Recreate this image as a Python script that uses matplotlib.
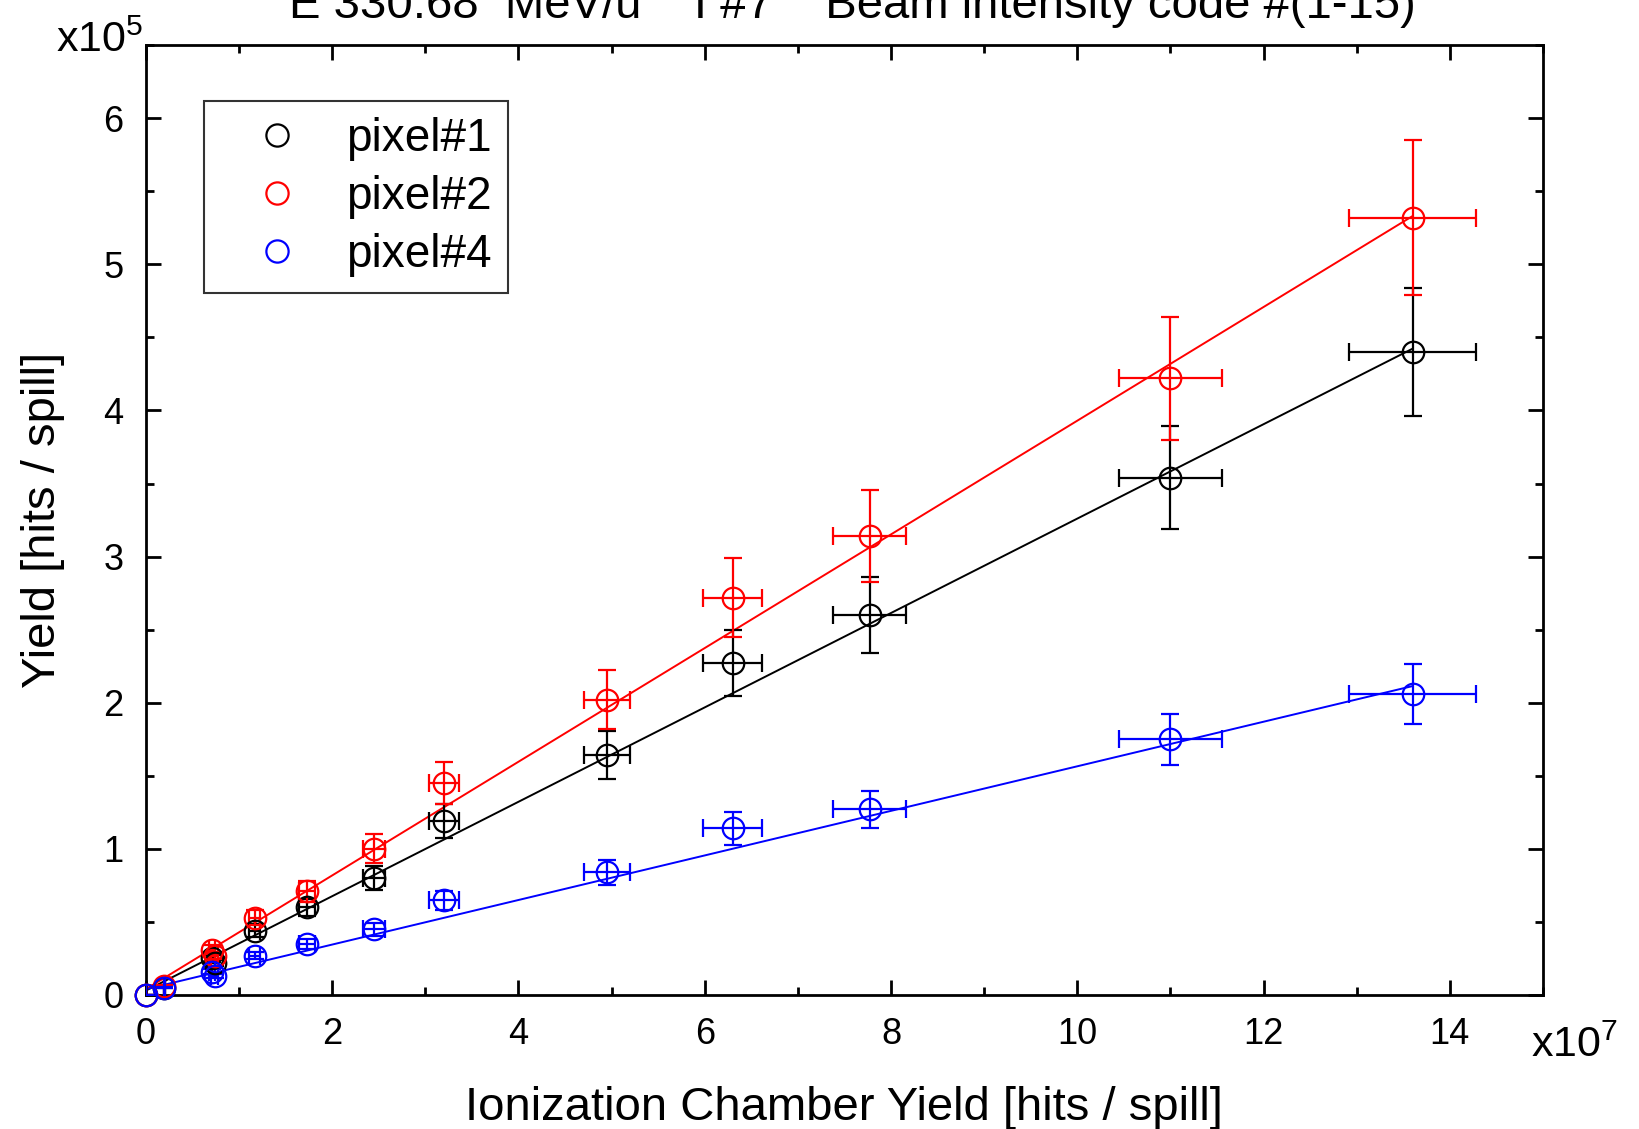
import numpy as np
import matplotlib
matplotlib.use("Agg")
import matplotlib.pyplot as plt
from matplotlib.ticker import MultipleLocator
from matplotlib.lines import Line2D

plt.rcParams['font.family'] = ['Liberation Sans', 'DejaVu Sans']
plt.rcParams['mathtext.default'] = 'regular'

# ionization chamber yield (x1e7 hits/spill) for each intensity code
ic_yield = [0.0, 0.2, 0.71, 0.74, 1.17, 1.73, 2.45, 3.2, 4.95, 6.3, 7.77, 11.0, 13.6]

# pixel yields (x1e5 hits/spill)
pixel1 = [0.0, 0.05, 0.25, 0.22, 0.44, 0.60, 0.80, 1.19, 1.64, 2.27, 2.60, 3.54, 4.40]
pixel2 = [0.0, 0.06, 0.31, 0.27, 0.53, 0.71, 1.00, 1.45, 2.02, 2.72, 3.14, 4.22, 5.32]
pixel4 = [0.0, 0.05, 0.16, 0.13, 0.27, 0.35, 0.45, 0.65, 0.84, 1.14, 1.27, 1.75, 2.06]

# relative uncertainties on IC yield and pixel yield
ic_rel_err = 0.05
pix_rel_err = 0.10

# linear fits (intercept, slope) drawn over the data range
fit1 = (0.03, 0.323)
fit2 = (0.04, 0.389)
fit4 = (0.04, 0.1525)

labels = ['pixel#1', 'pixel#2', 'pixel#4']
colors = ['black', 'red', 'blue']

fig = plt.figure(figsize=(16.39, 11.29), dpi=100)
ax = fig.add_axes([0.089, 0.1187, 0.8524, 0.8413])

x = np.array(ic_yield)
xfit = np.array([x.min(), x.max()])
for y, fit, lab, c in zip([pixel1, pixel2, pixel4], [fit1, fit2, fit4], labels, colors):
    y = np.array(y)
    eb = ax.errorbar(x, y, xerr=ic_rel_err * x, yerr=pix_rel_err * y, fmt='o', ms=15.5,
                     mfc='none', mec=c, mew=1.6, ecolor=c, elinewidth=1.6,
                     capsize=6.5, capthick=1.6, zorder=3)
    eb[0].set_clip_on(False)
    ax.plot(xfit, fit[0] + fit[1] * xfit, color=c, lw=1.4, zorder=2)

ax.set_xlim(0, 15)
ax.set_ylim(0, 6.5)
ax.xaxis.set_major_locator(MultipleLocator(2))
ax.xaxis.set_minor_locator(MultipleLocator(1))
ax.yaxis.set_major_locator(MultipleLocator(1))
ax.yaxis.set_minor_locator(MultipleLocator(0.5))
ax.tick_params(which='both', direction='in', top=True, right=True, width=2)
ax.tick_params(which='major', length=11, labelsize=26)
ax.tick_params(axis='x', which='major', pad=16)
ax.tick_params(axis='y', which='major', pad=16)
ax.tick_params(which='minor', length=6)
for s in ax.spines.values():
    s.set_linewidth(2)

ax.set_xlabel('Ionization Chamber Yield [hits / spill]', fontsize=34, labelpad=24)
ax.set_ylabel('Yield [hits / spill]', fontsize=34, labelpad=28)

fig.text(0.034, 0.954, 'x10$^{5}$', fontsize=31, va='baseline')
fig.text(0.934, 0.064, 'x10$^{7}$', fontsize=31, va='baseline')
fig.text(0.52, 0.984, 'E 330.68  MeV/u    I #7    Beam intensity code #(1-15)',
         fontsize=34, ha='center', va='baseline')

handles = [Line2D([], [], ls='none', marker='o', ms=16, mfc='none', mec=c, mew=1.6)
           for c in colors]
leg = ax.legend(handles, labels, loc='upper left', bbox_to_anchor=(0.0415, 0.941),
                borderaxespad=0, fontsize=33, frameon=True, fancybox=False,
                edgecolor='black', handletextpad=0.25, labelspacing=0.3,
                borderpad=0.35, handlelength=2.5)
leg.get_frame().set_linewidth(1.5)

fig.savefig('out.png', dpi=100)
